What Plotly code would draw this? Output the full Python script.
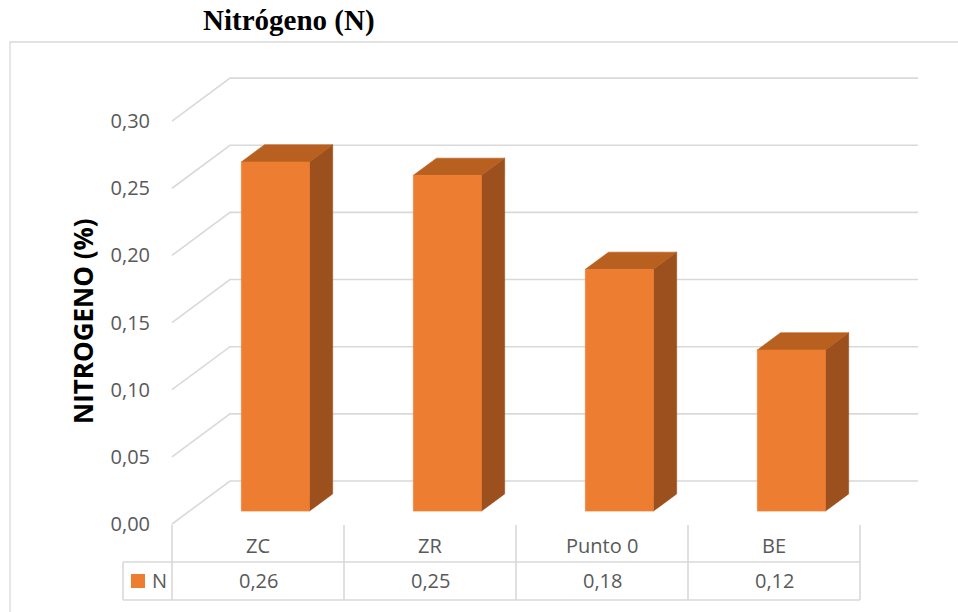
import plotly.graph_objects as go

# ---- data ----
categories = ["ZC", "ZR", "Punto 0", "BE"]
nitrogen = [0.26, 0.25, 0.18, 0.12]
series_name = "N"
y_ticks = [0.00, 0.05, 0.10, 0.15, 0.20, 0.25, 0.30]

# ---- page geometry (pixels) ----
W, H = 958, 612
X0_PX, CAT_PX = 172, 172      # left edge of first category, width of a category
Y0_PX, UNIT_PX = 524, 1343    # front-plane zero line, pixels per unit of value

# oblique depth of the 3-D box, in data units
DEPTH_X = 58 / CAT_PX
DEPTH_Y = 43 / UNIT_PX
BAR_HALF = 0.198              # half bar width, in category units
FACE_NEAR, FACE_FAR = 0.30, 0.70  # depth fractions of the bar front/back faces

FRONT, TOP, SIDE = "#ED7D31", "#B8601F", "#9B501E"
GRID, TEXT = "#D9D9D9", "#595959"
FONT = "Open Sans"


def px_x(px):
    return px / W


def px_y(py):
    return 1 - py / H


def fmt(v):
    return f"{v:.2f}".replace(".", ",")


n = len(categories)
fig = go.Figure()

# walls: side-wall diagonals and back-wall gridlines
gx, gy = [], []
for v in y_ticks:
    gx += [0, DEPTH_X, n + DEPTH_X, None]
    gy += [v, v + DEPTH_Y, v + DEPTH_Y, None]
fig.add_trace(go.Scatter(x=gx, y=gy, mode="lines",
                         line=dict(color=GRID, width=1.6),
                         hoverinfo="skip", showlegend=False))


def poly(xs, ys, color):
    fig.add_trace(go.Scatter(x=xs + [xs[0]], y=ys + [ys[0]], mode="lines",
                             fill="toself", fillcolor=color,
                             line=dict(color=color, width=0.6),
                             hoverinfo="skip", showlegend=False))


# 3-D bars
for i, v in enumerate(nitrogen):
    c = i + 0.5
    nx, ny = FACE_NEAR * DEPTH_X, FACE_NEAR * DEPTH_Y
    fx, fy = FACE_FAR * DEPTH_X, FACE_FAR * DEPTH_Y
    left, right = c - BAR_HALF, c + BAR_HALF
    # side face
    poly([right + nx, right + fx, right + fx, right + nx],
         [ny, fy, v + fy, v + ny], SIDE)
    # top face
    poly([left + nx, right + nx, right + fx, left + fx],
         [v + ny, v + ny, v + fy, v + fy], TOP)
    # front face
    poly([left + nx, right + nx, right + nx, left + nx],
         [ny, ny, v + ny, v + ny], FRONT)

shapes = []
line = dict(color=GRID, width=1.6)

# outer chart frame
shapes.append(dict(type="rect", xref="paper", yref="paper",
                   x0=px_x(10), x1=px_x(W + 5), y0=px_y(42), y1=px_y(H + 5),
                   line=dict(color=GRID, width=1.3), fillcolor="rgba(0,0,0,0)"))

# data table grid
row_top, row_mid, row_bot = 525, 562, 600
legend_left = 123
for k in range(n + 1):
    xp = X0_PX + k * CAT_PX
    shapes.append(dict(type="line", xref="paper", yref="paper",
                       x0=px_x(xp), x1=px_x(xp), y0=px_y(row_top), y1=px_y(row_bot),
                       line=line))
shapes.append(dict(type="line", xref="paper", yref="paper",
                   x0=px_x(legend_left), x1=px_x(legend_left),
                   y0=px_y(row_mid), y1=px_y(row_bot), line=line))
for yy in (row_mid, row_bot):
    shapes.append(dict(type="line", xref="paper", yref="paper",
                       x0=px_x(legend_left), x1=px_x(X0_PX + n * CAT_PX),
                       y0=px_y(yy), y1=px_y(yy), line=line))
# legend key
shapes.append(dict(type="rect", xref="paper", yref="paper",
                   x0=px_x(131), x1=px_x(145), y0=px_y(574), y1=px_y(588),
                   line=dict(width=0), fillcolor=FRONT))

annotations = []
tfont = dict(family=FONT, size=20, color=TEXT)
for i, (cat, v) in enumerate(zip(categories, nitrogen)):
    annotations.append(dict(x=i + 0.5, y=px_y(545), xref="x", yref="paper",
                            text=cat, showarrow=False, font=tfont,
                            xanchor="center", yanchor="middle"))
    annotations.append(dict(x=i + 0.5, y=px_y(580), xref="x", yref="paper",
                            text=fmt(v), showarrow=False, font=tfont,
                            xanchor="center", yanchor="middle"))
annotations.append(dict(x=px_x(150), y=px_y(580), xref="paper", yref="paper",
                        text=series_name, showarrow=False, font=tfont,
                        xanchor="left", yanchor="middle"))

# chart title
annotations.append(dict(x=px_x(289), y=px_y(21), xref="paper", yref="paper",
                        text="<b>Nitrógeno (N)</b>", showarrow=False,
                        font=dict(family="Liberation Serif", size=29, color="black"),
                        xanchor="center", yanchor="middle"))
# value axis title
annotations.append(dict(x=px_x(83), y=px_y(321), xref="paper", yref="paper",
                        text="<b>NITROGENO (%)</b>", showarrow=False, textangle=-90,
                        font=dict(family=FONT, size=26, color="black"),
                        xanchor="center", yanchor="middle"))

fig.update_layout(
    width=W, height=H,
    margin=dict(l=0, r=0, t=0, b=0),
    paper_bgcolor="white", plot_bgcolor="white",
    separators=",.",
    showlegend=False,
    xaxis=dict(range=[-X0_PX / CAT_PX, (W - X0_PX) / CAT_PX],
               visible=False, fixedrange=True),
    yaxis=dict(range=[(Y0_PX - H) / UNIT_PX, Y0_PX / UNIT_PX],
               anchor="free", position=X0_PX / W, side="left",
               tickvals=y_ticks, tickformat=".2f", ticks="",
               showline=False, showgrid=False, zeroline=False,
               tickfont=dict(family=FONT, size=20, color=TEXT),
               ticklabelstandoff=22, fixedrange=True),
    shapes=shapes,
    annotations=annotations,
)

fig.write_html("out.html", config={"displayModeBar": False})
